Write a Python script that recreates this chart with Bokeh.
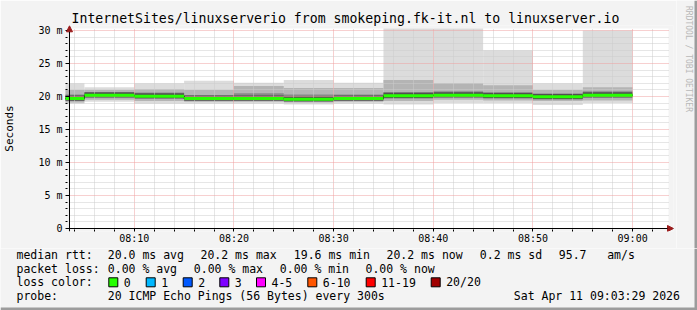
import datetime as dt
import math
from bokeh.plotting import figure
from bokeh.layouts import column, row
from bokeh.models import (FixedTicker, Arrow, NormalHead, ColumnDataSource, Range1d)
from bokeh.core.properties import value
from bokeh.embed import file_html
from bokeh.resources import INLINE

# ---------------- data ----------------
DAY = "2026-04-11"
interval_end = ["08:05", "08:10", "08:15", "08:20", "08:25", "08:30",
                "08:35", "08:40", "08:45", "08:50", "08:55", "09:00"]
rtt_max    = [22.0, 21.4, 22.0, 22.4, 22.1, 22.5, 22.1, 30.3, 30.3, 27.0, 22.0, 30.0]
rtt_hi2    = [21.0, 21.0, 21.1, 21.0, 21.6, 21.3, 21.3, 22.5, 22.0, 21.7, 21.0, 21.4]
rtt_hi3    = [20.3, 20.6, 20.6, 20.2, 20.5, 20.3, 20.3, 20.7, 20.8, 20.6, 20.3, 20.8]
rtt_median = [19.7, 20.2, 20.05, 19.7, 19.7, 19.6, 19.7, 20.1, 20.2, 20.1, 19.95, 20.2]
rtt_lo3    = [19.4, 19.9, 19.8, 19.5, 19.5, 19.4, 19.5, 19.8, 19.95, 19.8, 19.7, 19.9]
rtt_lo2    = [19.1, 19.5, 19.3, 19.2, 19.2, 19.1, 19.2, 19.3, 19.5, 19.4, 19.3, 19.4]
rtt_min    = [18.9, 19.2, 18.9, 18.9, 18.9, 18.8, 18.9, 18.8, 19.0, 19.0, 18.7, 19.0]

view_start = "08:03:30"
view_end = "09:03:30"
x_tick_times = ["08:10", "08:20", "08:30", "08:40", "08:50", "09:00"]
x_tick_labels = ["08:10", "08:20", "08:30", "08:40", "08:50", "09:00"]
y_ticks = [0, 5, 10, 15, 20, 25, 30]
y_tick_labels = ["0", "5 m", "10 m", "15 m", "20 m", "25 m", "30 m"]
y_top = 30.3

title_text = "InternetSites/linuxserverio from smokeping.fk-it.nl to linuxserver.io"
y_label = "Seconds"
tag_text = "RRDTOOL / TOBI OETIKER"
rtt_stats = ["20.0 ms avg", "20.2 ms max", "19.6 ms min", "20.2 ms now", "0.2 ms sd", "95.7", "am/s"]
loss_stats = ["0.00 % avg", "0.00 % max", "0.00 % min", "0.00 % now"]
loss_labels = ["0", "1", "2", "3", "4-5", "6-10", "11-19", "20/20"]
loss_colors = ["#26ff00", "#00b8ff", "#0059ff", "#7e00ff", "#ff00ff", "#ff5500", "#ff0000", "#a00000"]
probe_text = "20 ICMP Echo Pings (56 Bytes) every 300s"
stamp_text = "Sat Apr 11 09:03:29 2026"

# ---------------- helpers ----------------
def t(hms):
    parts = [int(v) for v in hms.split(":")]
    while len(parts) < 3:
        parts.append(0)
    return dt.datetime.fromisoformat(DAY).replace(hour=parts[0], minute=parts[1], second=parts[2])

EPOCH = dt.datetime(1970, 1, 1)
def ms(d):
    return int((d - EPOCH).total_seconds() * 1000)

BG = "#f3f3f3"
MONO = "DejaVu Sans Mono"
W, H = 697, 310
HA = 248            # height of chart strip
WA = 676            # width of chart figure
X0 = t(view_start)              # canvas column 67
def cx(px):                      # canvas column -> time (6 s per px)
    return X0 + dt.timedelta(seconds=(px - 67) * 6)
def cy(px):                      # canvas row -> ms (6.6 px per ms, 0 at row 228)
    return (228 - px) / 6.6

def no_align(fig):
    if "frame_align" in fig.properties():
        fig.frame_align = False

ends = [t(s) for s in interval_end]
lefts = [e - dt.timedelta(seconds=300) for e in ends]

FL, FR, FT, FB = 63, 673, 25, 231
pA = figure(width=WA, height=HA, x_axis_type="datetime",
            x_range=Range1d(cx(FL), cx(FR)), y_range=Range1d(cy(FB), cy(FT)),
            output_backend="svg", toolbar_location=None,
            min_border_left=FL, min_border_right=WA - FR, min_border_top=FT,
            min_border_bottom=HA - FB,
            background_fill_color=BG, border_fill_color=BG, outline_line_color=None)
no_align(pA)

bgr = pA.quad(left=[X0], right=[cx(668)], bottom=[0], top=[y_top],
              fill_color="white", line_color=None)
bgr.level = "image"

src = ColumnDataSource(dict(left=lefts, right=ends, mx=rtt_max, h2=rtt_hi2, h3=rtt_hi3,
                            md=rtt_median, l3=rtt_lo3, l2=rtt_lo2, mn=rtt_min,
                            dk_lo=[m - 0.35 for m in rtt_median],
                            dk_hi=[m + 0.45 for m in rtt_median]))
for lo, hi, col in [("mn", "mx", "#dcdcdc"), ("l2", "h2", "#b4b4b4"),
                    ("l3", "h3", "#8a8a8a"), ("dk_lo", "dk_hi", "#505050")]:
    r = pA.quad(left="left", right="right", bottom=lo, top=hi, source=src,
                fill_color=col, line_color=None)
    r.level = "image"

step_x = lefts + [ends[-1]]
step_y = rtt_median + [rtt_median[-1]]
pA.step(x=step_x, y=step_y, mode="after", line_color="black", line_width=1)
pA.segment(x0="left", x1="right", y0="md", y1="md", source=src,
           line_color=loss_colors[0], line_width=3, line_cap="butt")

major_x = [ms(t(s)) for s in x_tick_times]
minor_x = []
cur = t("08:04")
while cur <= t("09:02"):
    if cur.minute % 10 != 0:
        minor_x.append(ms(cur))
    cur += dt.timedelta(minutes=2)
pA.xaxis.ticker = FixedTicker(ticks=major_x, minor_ticks=minor_x)
pA.xaxis.major_label_overrides = {k: v for k, v in zip(major_x, x_tick_labels)}
pA.yaxis.ticker = FixedTicker(ticks=y_ticks, minor_ticks=[v for v in range(0, 31) if v % 5])
pA.yaxis.major_label_overrides = {k: v for k, v in zip(y_ticks, y_tick_labels)}

for ax in pA.axis:
    ax.axis_line_color = None
    ax.major_tick_line_color = "black"
    ax.minor_tick_line_color = "black"
    ax.major_tick_out = 0
    ax.minor_tick_out = 0
    ax.major_label_text_font = MONO
    ax.major_label_text_font_size = "10px"
    ax.major_label_text_color = "black"
pA.yaxis.major_tick_in = 4
pA.yaxis.minor_tick_in = 2
pA.xaxis.major_tick_in = 3
pA.xaxis.minor_tick_in = 2
pA.yaxis.major_label_standoff = 3
pA.xaxis.major_label_standoff = 1
pA.yaxis.axis_label = y_label
pA.yaxis.axis_label_text_font = MONO
pA.yaxis.axis_label_text_font_size = "11px"
pA.yaxis.axis_label_text_font_style = "normal"
pA.yaxis.axis_label_text_color = "black"
pA.yaxis.axis_label_standoff = 19

for g in (pA.xgrid, pA.ygrid):
    g.grid_line_color = "#eea0a0"
    g.grid_line_dash = "1 1"
    g.minor_grid_line_color = "#cccccc"
    g.minor_grid_line_dash = "1 1"
if "cross_bounds" in pA.xgrid.properties():
    pA.xgrid.cross_bounds = (0, y_top)
    pA.ygrid.cross_bounds = (ms(X0), ms(cx(668)))

pA.add_layout(Arrow(end=NormalHead(size=6, fill_color="#9b1c1c", line_color="#9b1c1c"),
                    x_start=cx(64), y_start=0, x_end=cx(673), y_end=0,
                    line_color="black", line_width=1))
pA.add_layout(Arrow(end=NormalHead(size=6, fill_color="#9b1c1c", line_color="#9b1c1c"),
                    x_start=X0, y_start=cy(231), x_end=X0, y_end=cy(25.3),
                    line_color="black", line_width=1))

pA.title.text = title_text
pA.title.align = "left"
pA.title.offset = 6
pA.title.standoff = 0
pA.title.vertical_align = "bottom"
pA.title.text_font = MONO
pA.title.text_font_size = "13.2px"
pA.title.text_font_style = "normal"
pA.title.text_color = "black"

pR = figure(width=W - WA, height=HA, x_range=Range1d(WA, W), y_range=Range1d(HA, 0),
            output_backend="svg", toolbar_location=None, min_border=0,
            x_axis_location=None, y_axis_location=None,
            background_fill_color=BG, border_fill_color=BG, outline_line_color=None)
no_align(pR)
pR.grid.visible = False
pR.text(x=[688], y=[58.5], text=[tag_text], angle=-math.pi / 2,
        text_font=value(MONO), text_font_size=value("8px"), text_color="#b8b8b8",
        text_align="center", text_baseline="middle")
pR.quad(left=[W - 3], right=[W], top=[0], bottom=[HA], fill_color="#9c9c9c", line_color=None)

pB = figure(width=W, height=H - HA, x_range=Range1d(0, W), y_range=Range1d(H, HA),
            output_backend="svg", toolbar_location=None, min_border=0,
            x_axis_location=None, y_axis_location=None,
            background_fill_color=BG, border_fill_color=BG, outline_line_color=None)
no_align(pB)
pB.grid.visible = False
row_y = [254.2, 268.3, 281.8, 295.8]
box_x = [108.3, 145.7, 182.7, 219.3, 256, 307.3, 365.7, 430.7]
tx, ty, tt = [], [], []
def put(x, y, s):
    tx.append(x); ty.append(y); tt.append(s)
put(16, row_y[0], "median rtt:")
for s, x in zip(rtt_stats, [107.3, 200, 293.3, 386, 479.3, 558.3, 606.7]):
    put(x, row_y[0], s)
put(16, row_y[1], "packet loss:")
for s, x in zip(loss_stats, [107.3, 193.3, 279.3, 365]):
    put(x, row_y[1], s)
put(16, row_y[2], "loss color:")
for s, bx in zip(loss_labels, box_x):
    put(bx + 15, row_y[2], s)
put(16, row_y[3], "probe:")
put(107.3, row_y[3], probe_text)
put(513.3, row_y[3], stamp_text)
pB.text(x=tx, y=ty, text=tt, text_font=value(MONO), text_font_size=value("11.5px"),
        text_color="black", text_align="left", text_baseline="middle")
pB.quad(left=[b for b in box_x], right=[b + 9 for b in box_x],
        top=[row_y[2] - 4.5] * len(box_x), bottom=[row_y[2] + 4.5] * len(box_x),
        fill_color=loss_colors, line_color="black", line_width=1)
pB.quad(left=[0, W - 3], right=[W, W], top=[H - 3, HA], bottom=[H, H],
        fill_color="#9c9c9c", line_color=None)

layout = column(row(pA, pR), pB)
open("out.html", "w").write(file_html(layout, INLINE))
